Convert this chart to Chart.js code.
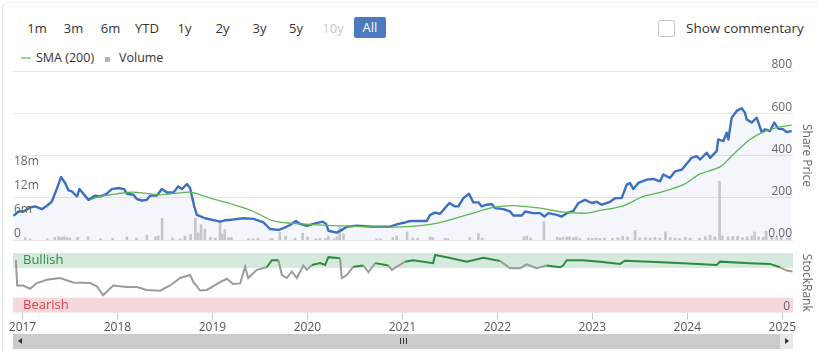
<!DOCTYPE html>
<html>
<head>
<meta charset="utf-8">
<script src="https://cdn.jsdelivr.net/npm/chart.js@4/dist/chart.umd.min.js"></script>
<style>
  html, body { margin:0; padding:0; background:#fff; }
  body { width:818px; height:351px; overflow:hidden; position:relative; font-family:"Open Sans", "Noto Sans", sans-serif; color:#333; }
  .frame { position:absolute; left:2px; top:2px; width:900px; height:400px; border-left:1px solid #e2e2e2; border-top:1px solid #f0f0f0; border-radius:6px; }
  .btn { position:absolute; top:18px; line-height:20px; font-size:13px; color:#333; transform:translateX(-50%); white-space:nowrap; }
  .btn.dis { color:#c8c8c8; }
  .btn.sel { background:#4a7bc0; color:#fff; width:32px; height:21px; line-height:21px; top:17px; text-align:center; border-radius:2px; }
  .chk { position:absolute; left:658px; top:20px; width:15px; height:15px; border:1px solid #c4c4c4; border-radius:3px; background:#fff; }
  .chkl { position:absolute; left:686px; top:18px; line-height:20px; font-size:13.5px; color:#333; }
  .leg { position:absolute; top:49px; line-height:18px; font-size:12.5px; color:#333; }
  canvas { position:absolute; left:0; top:0; }
  .sb { position:absolute; left:13px; top:334px; width:780px; height:15px; background:#cbcbcb; }
  .sbr { position:absolute; left:780px; top:334px; width:13px; height:15px; background:#e8e8e8; }
</style>
</head>
<body>
<div class="frame"></div>
<div class="btn" style="left:37px">1m</div>
<div class="btn" style="left:73.5px">3m</div>
<div class="btn" style="left:110.5px">6m</div>
<div class="btn" style="left:147px">YTD</div>
<div class="btn" style="left:184.5px">1y</div>
<div class="btn" style="left:222.5px">2y</div>
<div class="btn" style="left:259.5px">3y</div>
<div class="btn" style="left:296px">5y</div>
<div class="btn dis" style="left:333px">10y</div>
<div class="btn sel" style="left:370px">All</div>
<div class="chk"></div>
<div class="chkl">Show commentary</div>
<div style="position:absolute;left:21px;top:57px;width:10px;height:2px;background:#9ed49a"></div>
<div class="leg" style="left:36px">SMA (200)</div>
<div style="position:absolute;left:105px;top:57px;width:5px;height:5px;background:#b3b3bb"></div>
<div class="leg" style="left:119px">Volume</div>

<canvas id="top" width="818" height="351"></canvas>
<canvas id="bot" width="818" height="351"></canvas>

<div class="sb"></div>
<div class="sbr"></div>
<div style="position:absolute;left:18px;top:338px;width:0;height:0;border-top:3.5px solid transparent;border-bottom:3.5px solid transparent;border-right:4px solid #333"></div>
<div style="position:absolute;left:785px;top:338px;width:0;height:0;border-top:3.5px solid transparent;border-bottom:3.5px solid transparent;border-left:4px solid #333"></div>
<div style="position:absolute;left:400px;top:338px;width:1px;height:6px;background:#333"></div>
<div style="position:absolute;left:403px;top:338px;width:1px;height:6px;background:#333"></div>
<div style="position:absolute;left:406px;top:338px;width:1px;height:6px;background:#333"></div>

<script>
// ---------- DATA (decimal years) ----------
const priceYears = [2016.905,2016.958,2017.011,2017.081,2017.134,2017.204,2017.257,2017.309,2017.344,2017.407,2017.449,2017.484,2017.52,2017.573,2017.6,2017.636,2017.695,2017.765,2017.818,2017.881,2017.941,2018.011,2018.071,2018.099,2018.168,2018.204,2018.257,2018.309,2018.344,2018.415,2018.467,2018.52,2018.589,2018.642,2018.678,2018.731,2018.765,2018.807,2018.836,2018.923,2019.081,2019.152,2019.187,2019.326,2019.432,2019.537,2019.607,2019.695,2019.747,2019.818,2019.878,2019.923,2019.994,2020.081,2020.162,2020.197,2020.221,2020.309,2020.362,2020.415,2020.52,2020.695,2020.871,2020.958,2021.028,2021.081,2021.257,2021.292,2021.345,2021.397,2021.495,2021.555,2021.589,2021.642,2021.702,2021.747,2021.8,2021.836,2021.888,2021.941,2021.976,2022.063,2022.134,2022.168,2022.257,2022.292,2022.379,2022.45,2022.495,2022.537,2022.625,2022.678,2022.731,2022.8,2022.853,2022.923,2022.994,2023.047,2023.099,2023.187,2023.24,2023.309,2023.362,2023.397,2023.432,2023.484,2023.573,2023.642,2023.713,2023.747,2023.818,2023.871,2023.941,2024.046,2024.099,2024.134,2024.204,2024.24,2024.309,2024.326,2024.379,2024.415,2024.432,2024.467,2024.52,2024.573,2024.607,2024.625,2024.678,2024.731,2024.783,2024.818,2024.871,2024.916,2024.958,2025.011,2025.046,2025.099];
const priceValues = [114,135,135,154,159,146,162,182,222,298,270,235,230,206,241,222,190,210,206,217,241,246,241,219,214,194,187,190,210,210,241,225,225,254,241,265,246,162,119,103,87,95,95,103,100,83,52,48,56,71,90,76,67,79,87,76,44,35,48,63,68,63,63,76,83,90,90,119,130,124,175,159,159,198,219,178,178,159,167,170,151,146,135,116,116,135,127,127,111,127,119,111,127,138,175,190,175,181,167,181,198,198,262,270,241,270,286,289,278,310,294,325,333,389,397,381,413,389,421,476,468,508,476,579,611,624,603,571,556,579,511,524,516,556,527,524,511,516];

const smaYears = [2017.713,2017.818,2018.0,2018.168,2018.449,2018.765,2018.871,2018.976,2019.221,2019.432,2019.642,2019.923,2020.344,2020.625,2021.0,2021.326,2021.678,2021.958,2022.168,2022.45,2022.695,2022.941,2023.081,2023.326,2023.537,2023.713,2023.958,2024.134,2024.345,2024.484,2024.66,2024.8,2024.976,2025.099];
const smaValues = [190,206,219,227,214,227,214,198,167,135,90,76,67,63,62,76,119,154,163,151,132,127,140,162,206,225,262,313,346,405,476,511,535,544];

const volYears = [2017.03,2017.08,2017.26,2017.34,2017.38,2017.41,2017.44,2017.47,2017.50,2017.58,2017.69,2017.82,2017.95,2018.10,2018.20,2018.31,2018.40,2018.43,2018.47,2018.58,2018.66,2018.71,2018.77,2018.82,2018.85,2018.88,2018.92,2018.98,2019.03,2019.08,2019.10,2019.13,2019.17,2019.20,2019.38,2019.43,2019.48,2019.61,2019.63,2019.71,2019.77,2019.87,2019.95,2020.00,2020.09,2020.13,2020.19,2020.22,2020.28,2020.31,2020.34,2020.38,2020.73,2020.77,2020.90,2020.94,2021.05,2021.11,2021.16,2021.29,2021.32,2021.45,2021.48,2021.71,2021.80,2021.84,2022.28,2022.31,2022.35,2022.49,2022.63,2022.66,2022.69,2022.73,2022.76,2022.80,2022.83,2022.87,2022.96,2023.00,2023.04,2023.08,2023.13,2023.21,2023.27,2023.32,2023.37,2023.45,2023.50,2023.56,2023.61,2023.66,2023.71,2023.77,2023.82,2023.87,2023.92,2023.98,2024.03,2024.13,2024.19,2024.24,2024.29,2024.34,2024.37,2024.43,2024.48,2024.53,2024.58,2024.63,2024.68,2024.71,2024.75,2024.80,2024.83,2024.89,2024.94,2024.99,2025.05,2025.08];
const volMillions = [0.6,0.3,0.3,0.6,0.8,0.7,0.8,0.6,0.5,0.7,0.8,0.3,0.4,0.8,0.5,1.2,0.8,1.0,5.4,0.5,0.3,1.0,1.4,5.4,1.8,3.8,2.7,0.7,0.5,4.6,1.5,2.6,0.6,0.6,0.3,0.3,0.5,0.3,0.4,2.0,1.0,0.5,1.7,0.8,0.3,0.4,0.4,1.0,0.3,0.8,3.2,1.5,0.3,0.3,0.6,1.0,2.0,0.5,0.4,0.8,0.6,0.4,0.4,0.6,1.6,0.5,0.8,1.0,0.5,4.6,0.7,0.5,0.7,0.7,0.8,0.6,0.8,0.4,0.5,0.4,0.5,0.4,0.5,0.4,0.6,1.0,0.8,2.4,0.5,0.6,0.5,0.7,0.5,2.0,0.6,0.5,0.4,0.7,0.5,0.5,0.8,1.2,0.8,14.6,1.0,0.8,0.9,1.0,0.6,0.8,1.0,2.0,0.8,0.7,2.2,0.8,0.6,0.7,0.5,0.6];

const rankYears = [2016.93,2016.944,2017.007,2017.081,2017.152,2017.257,2017.397,2017.534,2017.713,2017.783,2017.849,2017.955,2018.099,2018.204,2018.309,2018.449,2018.555,2018.66,2018.765,2018.797,2018.871,2018.941,2019.081,2019.152,2019.218,2019.292,2019.344,2019.376,2019.467,2019.573,2019.625,2019.695,2019.731,2019.783,2019.836,2019.888,2019.958,2019.994,2020.046,2020.134,2020.186,2020.221,2020.344,2020.362,2020.415,2020.484,2020.589,2020.642,2020.713,2020.853,2020.888,2021.028,2021.113,2021.324,2021.345,2021.467,2021.678,2021.853,2022.028,2022.134,2022.239,2022.309,2022.415,2022.52,2022.66,2022.692,2022.731,2022.902,2023.081,2023.292,2023.344,2023.607,2023.955,2024.309,2024.345,2024.66,2024.871,2024.976,2025.046,2025.109];
const rankValues = [88,45.5,45.5,40,49.5,55,58,50.5,49.5,44,29,45.5,43,43,38,36.7,45.5,58,63,52,37,38,51,56.7,48,49,77,58,71.7,76,88,88,63,58,69,58,79,71.7,80,83,80,93,91,58,63,77,79,68,83,79,71.7,85.5,88,83,96.7,93,85.5,92,86.7,74.5,74.5,81,74.5,79,76,79,88,88,85.5,81.7,87,85.5,83,80,85.5,83,81.7,76,70.5,69];

const yearTicksMin = 2016.9, yearTicksMax = 2025.113;
const priceTickValues = [0,200,400,600,800];
const volTickMillions = [0,6,12,18];
const rankTickValues = [0];

// ---------- helpers ----------
const FONT = '"Open Sans", "Noto Sans", sans-serif';
const pairs = (xs, ys, k) => xs.map((x, i) => ({x, y: ys[i] * (k || 1)}));

const topLabels = {
  id: 'topLabels',
  afterDraw(chart) {
    const {ctx, chartArea} = chart;
    const yP = chart.scales.yP, yV = chart.scales.yV;
    ctx.save();
    ctx.font = '12px ' + FONT;
    ctx.fillStyle = '#666';
    ctx.textBaseline = 'middle';
    ctx.textAlign = 'right';
    priceTickValues.forEach(v => {
      ctx.fillText(v === 0 ? '0.00' : String(v), chartArea.right - 1, yP.getPixelForValue(v) - 6);
    });
    ctx.textAlign = 'left';
    volTickMillions.forEach(v => {
      ctx.fillText(v === 0 ? '0' : v + 'm', chartArea.left + 1, yV.getPixelForValue(v * 1e6) - 6);
    });
    ctx.restore();
  }
};

const bands = {
  id: 'bands',
  beforeDatasetsDraw(chart) {
    const {ctx, chartArea} = chart;
    const y = chart.scales.y;
    ctx.save();
    ctx.fillStyle = '#d5e9dc';
    ctx.fillRect(chartArea.left, y.getPixelForValue(100), chartArea.right - chartArea.left, y.getPixelForValue(75) - y.getPixelForValue(100));
    ctx.fillStyle = '#f4d8db';
    ctx.fillRect(chartArea.left, y.getPixelForValue(25), chartArea.right - chartArea.left, y.getPixelForValue(0) - y.getPixelForValue(25));
    ctx.font = '13px ' + FONT;
    ctx.textBaseline = 'middle';
    ctx.textAlign = 'left';
    ctx.fillStyle = '#2f8b47';
    ctx.fillText('Bullish', chartArea.left + 10, y.getPixelForValue(87.5));
    ctx.fillStyle = '#d6424f';
    ctx.fillText('Bearish', chartArea.left + 10, y.getPixelForValue(12.5));
    ctx.font = '12px ' + FONT;
    ctx.fillStyle = '#666';
    ctx.textAlign = 'right';
    rankTickValues.forEach(v => ctx.fillText(String(v), chartArea.right - 3, y.getPixelForValue(v) - 6));
    ctx.restore();
  }
};

const axisTitle = (text) => ({
  display: true, text, color: '#666',
  font: {family: FONT, size: 12},
  padding: {top: 4, bottom: 6.6}
});

// ---------- top chart ----------
new Chart(document.getElementById('top'), {
  type: 'line',
  data: {
    datasets: [
      { label: 'SMA (200)', type: 'line', data: pairs(smaYears, smaValues), yAxisID: 'yP',
        borderColor: '#5db656', borderWidth: 1.3, pointRadius: 0, fill: false, tension: 0.3 },
      { label: 'Price', type: 'line', data: pairs(priceYears, priceValues), yAxisID: 'yP',
        borderColor: '#3c6fc2', borderWidth: 2.4, pointRadius: 0, fill: 'origin',
        backgroundColor: 'rgba(70,110,200,0.06)', tension: 0, borderJoinStyle: 'round' },
      { label: 'Volume', type: 'bar', data: pairs(volYears, volMillions, 1e6), yAxisID: 'yV',
        backgroundColor: '#c6c6ce', barThickness: 2 }
    ]
  },
  options: {
    responsive: false, animation: false, devicePixelRatio: 1,
    layout: { padding: {left: 13, top: 71, right: 0, bottom: 111} },
    plugins: { legend: {display: false}, tooltip: {enabled: false}, filler: {drawTime: 'beforeDatasetsDraw'} },
    scales: {
      x: { type: 'linear', min: yearTicksMin, max: yearTicksMax, display: false, offset: false },
      yP: { type: 'linear', position: 'right', min: 0, max: 800,
            ticks: {display: false, stepSize: 200},
            grid: {color: '#e6e6e6', drawTicks: false, lineWidth: 1},
            border: {display: false},
            title: axisTitle('Share Price') },
      yV: { type: 'linear', position: 'left', min: 0, max: 42e6, display: false }
    }
  },
  plugins: [topLabels]
});

// ---------- bottom chart ----------
const GREEN = '#2b8c40', GREY = '#9b9b9b';
new Chart(document.getElementById('bot'), {
  type: 'line',
  data: {
    datasets: [
      { label: 'StockRank', data: pairs(rankYears, rankValues),
        borderWidth: 2, pointRadius: 0, fill: false, tension: 0,
        borderColor: GREY,
        segment: { borderColor: c => (c.p0.parsed.y >= 75 && c.p1.parsed.y >= 75) ? GREEN : GREY } }
    ]
  },
  options: {
    responsive: false, animation: false, devicePixelRatio: 1,
    layout: { padding: {left: 13, top: 253, right: 0, bottom: 15} },
    plugins: { legend: {display: false}, tooltip: {enabled: false} },
    scales: {
      x: { type: 'linear', min: yearTicksMin, max: yearTicksMax, offset: false,
           ticks: { stepSize: 1, includeBounds: false, padding: 1, color: '#555',
                    font: {family: FONT, size: 12}, maxRotation: 0,
                    callback: v => String(v) },
           grid: { drawOnChartArea: false, drawTicks: true, tickLength: 7, tickColor: '#c8c8c8' },
           border: { display: false } },
      y: { type: 'linear', position: 'right', min: 0, max: 100,
           ticks: {display: false, stepSize: 25},
           grid: { drawTicks: false, color: c => c.tick.value === 100 ? '#e3e3e3' : 'rgba(0,0,0,0)' },
           border: {display: false},
           title: axisTitle('StockRank') }
    }
  },
  plugins: [bands]
});
</script>
</body>
</html>
